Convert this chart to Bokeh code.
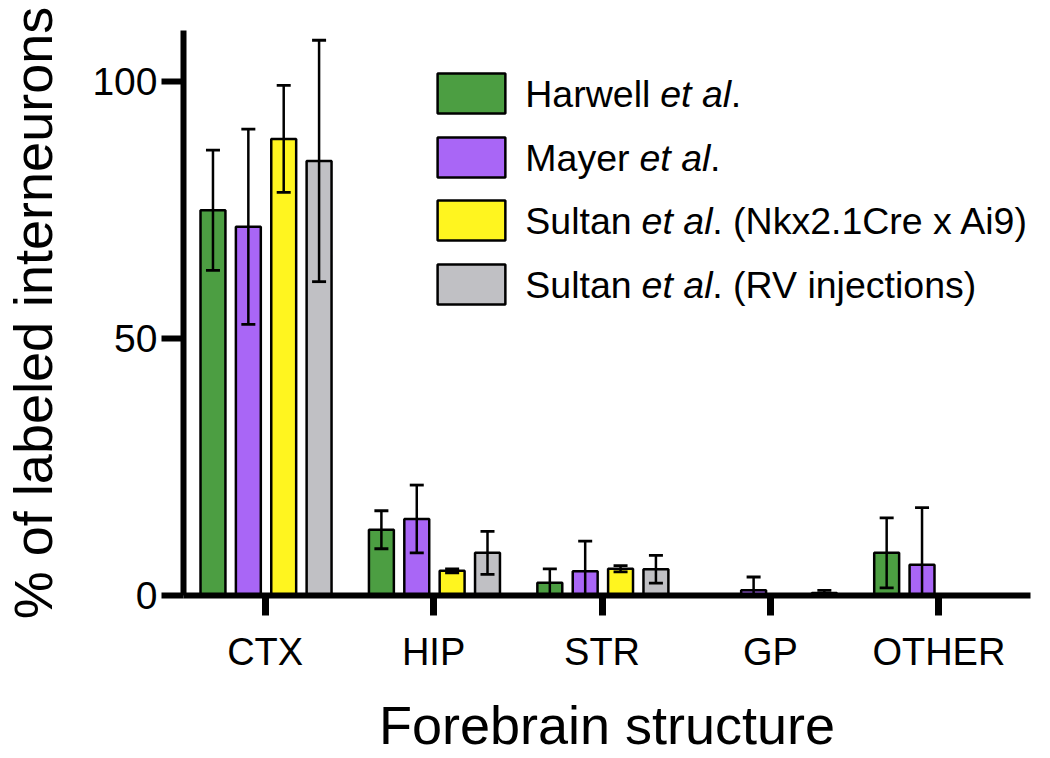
from bokeh.plotting import figure
from bokeh.models import (ColumnDataSource, Range1d, FixedTicker, Whisker, TeeHead,
                          BoxAnnotation, Label)
from bokeh.embed import file_html
from bokeh.resources import INLINE

# ---------------- data ----------------
categories = ["CTX", "HIP", "STR", "GP", "OTHER"]
series_names = ["Harwell", "Mayer", "Sultan_Nkx", "Sultan_RV"]
harwell = [75.0, 12.8, 2.5, 0.0, 8.3]
harwell_err = [11.7, 3.7, 2.7, 0.0, 6.8]
mayer = [71.8, 14.9, 4.7, 1.0, 6.0]
mayer_err = [19.0, 6.6, 5.9, 2.6, 11.1]
sultan_nkx = [88.9, 4.8, 5.2, 0.0, 0.0]
sultan_nkx_err = [10.4, 0.4, 0.6, 0.0, 0.0]
sultan_rv = [84.6, 8.3, 5.1, 0.5, 0.0]
sultan_rv_err = [23.5, 4.2, 2.7, 0.5, 0.0]
y_ticks = [0, 50, 100]
legend_labels = [
    ["Harwell ", "et al", "."],
    ["Mayer ", "et al", "."],
    ["Sultan ", "et al", ". (Nkx2.1Cre x Ai9)"],
    ["Sultan ", "et al", ". (RV injections)"],
]
y_title = "% of labeled interneurons"
x_title = "Forebrain structure"

# ---------------- style ----------------
colors = ["#4c9e42", "#a966f6", "#fff51f", "#c0c0c4"]
offsets = [-0.31, -0.1, 0.11, 0.32]
BAR_W = 0.148
FONT = "Liberation Sans"

X0, X1 = -0.485, 4.544
Y0, Y1 = 0, 110
FRAME_W, FRAME_H = 850, 565
FRAME_LEFT, FRAME_TOP = 180, 30
FRAME_BOTTOM = FRAME_TOP + FRAME_H
PX_X = FRAME_W / (X1 - X0)
PX_Y = FRAME_H / (Y1 - Y0)
CANVAS_W, CANVAS_H = 1050, 758


def page_to_data(px, py):
    return X0 + (px - FRAME_LEFT) / PX_X, (FRAME_BOTTOM - py) / PX_Y


p = figure(width=CANVAS_W, height=CANVAS_H, x_range=Range1d(X0, X1), y_range=Range1d(Y0, Y1),
           output_backend="svg", toolbar_location=None,
           min_border_left=FRAME_LEFT, min_border_right=CANVAS_W - FRAME_LEFT - FRAME_W,
           min_border_top=FRAME_TOP, min_border_bottom=CANVAS_H - FRAME_BOTTOM)
p.outline_line_color = None
p.grid.grid_line_color = None
p.background_fill_color = "white"
p.border_fill_color = "white"

vals = [harwell, mayer, sultan_nkx, sultan_rv]
errs = [harwell_err, mayer_err, sultan_nkx_err, sultan_rv_err]
for k in range(4):
    xs = [i + offsets[k] for i in range(len(categories))]
    upper = [v + e for v, e in zip(vals[k], errs[k])]
    lower = [max(0.0, v - e) for v, e in zip(vals[k], errs[k])]
    src = ColumnDataSource(dict(x=xs, top=vals[k], upper=upper, lower=lower))
    p.vbar(x="x", top="top", bottom=0, width=BAR_W, source=src,
           fill_color=colors[k], line_color="black", line_width=2.5)
    w = Whisker(base="x", upper="upper", lower="lower", source=src,
                line_color="black", line_width=2.5, level="annotation",
                upper_head=TeeHead(size=14, line_width=2.8, line_color="black"),
                lower_head=TeeHead(size=14, line_width=2.8, line_color="black"))
    p.add_layout(w)

# axes
for ax in (p.xaxis[0], p.yaxis[0]):
    ax.axis_line_width = 6
    ax.axis_line_color = "black"
    ax.major_tick_line_color = "black"
    ax.minor_tick_line_color = None
    ax.major_tick_in = 0
    ax.major_label_text_font = FONT
    ax.major_label_text_color = "black"
    ax.axis_label_text_font = FONT
    ax.axis_label_text_font_style = "normal"
    ax.axis_label_text_color = "black"

xa = p.xaxis[0]
xa.ticker = FixedTicker(ticks=list(range(len(categories))))
xa.major_label_overrides = {i: c for i, c in enumerate(categories)}
xa.major_tick_out = 20
xa.major_tick_line_width = 7
xa.major_label_text_font_size = "38px"
xa.major_label_standoff = 15
xa.axis_label = x_title
xa.axis_label_text_font_size = "54px"
xa.axis_label_standoff = 19

ya = p.yaxis[0]
ya.ticker = FixedTicker(ticks=y_ticks)
ya.major_tick_out = 22
ya.major_tick_line_width = 6
ya.major_label_text_font_size = "39px"
ya.major_label_standoff = 4
ya.axis_label = y_title
ya.axis_label_text_font_size = "54px"
ya.axis_label_standoff = 26

# legend (manual, to allow italic "et al")
W = {' ': 278, '(': 333, ')': 333, '.': 278, '1': 556, '2': 556, '9': 556, 'A': 667,
     'C': 722, 'H': 722, 'M': 833, 'N': 722, 'R': 722, 'S': 667, 'V': 667, 'a': 556,
     'c': 500, 'e': 556, 'i': 222, 'j': 222, 'k': 500, 'l': 222, 'n': 556, 'o': 556,
     'r': 333, 's': 500, 't': 278, 'u': 556, 'w': 722, 'x': 500, 'y': 500}
LEG_FS = 37.5
row_y_page = [93, 157, 220, 284]
box_l, box_r, box_h = 435, 503, 40
text_x0 = 523
for k, parts in enumerate(legend_labels):
    cy = row_y_page[k]
    l, t = page_to_data(box_l, cy - box_h / 2)
    r, b = page_to_data(box_r, cy + box_h / 2)
    p.add_layout(BoxAnnotation(left=l, right=r, top=t, bottom=b, fill_color=colors[k],
                               fill_alpha=1, line_color="black", line_width=2.5,
                               line_alpha=1))
    px = text_x0
    for j, s in enumerate(parts):
        x, y = page_to_data(px, cy)
        p.add_layout(Label(x=x, y=y, text=s, text_font=FONT, text_font_size=f"{LEG_FS}px",
                           text_font_style="italic" if j == 1 else "normal",
                           text_baseline="middle", text_align="left", text_color="black"))
        px += sum(W[c] for c in s) / 1000 * LEG_FS

open("out.html", "w").write(file_html(p, INLINE))
